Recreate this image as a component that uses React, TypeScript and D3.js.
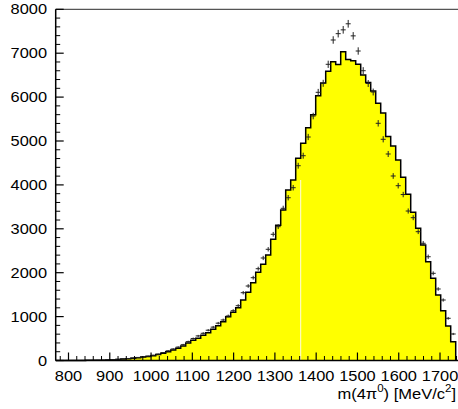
import React from "react";
import * as d3 from "d3";

// histogram range in MeV, 80 bins
const massLo = 769;
const massHi = 1738;
const nBins = 80;

// simulated distribution (yellow histogram), counts per bin
const mcCounts = [
  0, 0, 0, 1, 1, 2, 3, 4, 6, 8,
  12, 18, 25, 32, 42, 52, 65, 78, 92, 110,
  135, 165, 200, 240, 280, 330, 400, 460, 506, 575,
  633, 711, 793, 884, 998, 1098, 1203, 1378, 1553, 1772,
  2009, 2191, 2403, 2760, 3080, 3428, 3884, 4112, 4606, 4947,
  5303, 5600, 6030, 6320, 6590, 6806, 6740, 7034, 6855, 6829,
  6747, 6503, 6330, 6140, 5859, 5640, 5100, 4886, 4567, 4173,
  3786, 3376, 3011, 2631, 2251, 1872, 1492, 1134, 786, 428,
];

// measured data (crosses), counts per bin
const dataCounts = [
  0, 0, 1, 2, 2, 3, 4, 6, 8, 10,
  14, 20, 28, 36, 46, 58, 70, 85, 100, 120,
  145, 180, 220, 262, 305, 360, 430, 500, 560, 620,
  690, 760, 850, 923, 1014, 1134, 1248, 1544, 1697, 1886,
  2091, 2335, 2533, 2875, 3048, 3467, 3708, 3936, 4437, 4665,
  5091, 5569, 6109, 6314, 6747, 7301, 7445, 7532, 7670, 7395,
  7050, 6601, 6310, 6116, 5403, 5039, 4704, 4203, 3982, 3780,
  3405, 3253, 2934, 2670, 2364, 1986, 1629, 1378, 961, 604,
];

const xTicks = [800, 900, 1000, 1100, 1200, 1300, 1400, 1500, 1600, 1700];
const yTicks = [0, 1000, 2000, 3000, 4000, 5000, 6000, 7000, 8000];

const font = "'Liberation Sans', Arial, Helvetica, sans-serif";

export default function App() {
  const W = 458;
  const H = 409;
  const x = d3.scaleLinear().domain([massLo, massHi]).range([55.7, 455.7]);
  const y = d3.scaleLinear().domain([0, 8000]).range([360.5, 9.3]);
  const binW = (massHi - massLo) / nBins;
  const edges = d3.range(nBins + 1).map((i) => massLo + i * binW);

  const steps: [number, number][] = mcCounts.flatMap((v, i) => [
    [edges[i], v],
    [edges[i + 1], v],
  ]);
  const area = d3
    .area<[number, number]>()
    .x((d) => x(d[0]))
    .y0(y(0))
    .y1((d) => y(d[1]));
  const line = d3
    .line<[number, number]>()
    .x((d) => x(d[0]))
    .y((d) => y(d[1]));
  const outline: [number, number][] = [[massLo, 0], ...steps, [massHi, 0]];

  const xMinor = d3.range(780, 1741, 20).filter((v) => v % 100 !== 0);
  const yMinor = d3.range(200, 8000, 200).filter((v) => v % 1000 !== 0);
  const x0 = x(massLo);
  const y0 = y(0);

  return (
    <svg
      width={W}
      height={H}
      style={{ position: "absolute", left: 0, top: 0, background: "#fff" }}
      fontFamily={font}
    >
      <path d={area(steps) || ""} fill="#ffff00" />
      {/* faint bin-edge seam seen in the original */}
      <line x1={x(edges[49])} x2={x(edges[49])} y1={180} y2={y0} stroke="#fffbe0" strokeWidth={1} />
      <path d={line(outline) || ""} fill="none" stroke="#000" strokeWidth={1.5} />

      {dataCounts.map((v, i) => {
        const cx = x((edges[i] + edges[i + 1]) / 2);
        const err = Math.sqrt(v);
        return (
          <g key={i} stroke="#222" strokeWidth={1}>
            <line x1={cx - 2.5} x2={cx + 2.5} y1={y(v)} y2={y(v)} />
            <line x1={cx} x2={cx} y1={y(v + err)} y2={y(Math.max(0, v - err))} />
          </g>
        );
      })}

      {/* frame */}
      <line x1={x0} x2={W} y1={y(8000)} y2={y(8000)} stroke="#555" strokeWidth={1.3} />
      <line x1={x0} x2={x0} y1={y(8000)} y2={y0} stroke="#000" strokeWidth={1.5} />
      <line x1={x0} x2={W} y1={y0} y2={y0} stroke="#000" strokeWidth={1.5} />

      {/* y axis */}
      {yTicks.map((t) => (
        <g key={t}>
          <line x1={x0} x2={x0 + 8} y1={y(t)} y2={y(t)} stroke="#000" strokeWidth={1.2} />
          <text
            transform={`translate(47,${y(t) + 5}) scale(1.13,1)`}
            textAnchor="end"
            fontSize={14.5}
            fill="#000"
          >
            {t}
          </text>
        </g>
      ))}
      {yMinor.map((t) => (
        <line key={t} x1={x0} x2={x0 + 4.5} y1={y(t)} y2={y(t)} stroke="#000" strokeWidth={1} />
      ))}

      {/* x axis */}
      {xTicks.map((t) => (
        <g key={t}>
          <line x1={x(t)} x2={x(t)} y1={y0} y2={y0 - 8} stroke="#000" strokeWidth={1.2} />
          <text
            transform={`translate(${x(t)},380.5) scale(1.13,1)`}
            textAnchor="middle"
            fontSize={14.5}
            fill="#000"
          >
            {t}
          </text>
        </g>
      ))}
      {xMinor.map((t) => (
        <line key={t} x1={x(t)} x2={x(t)} y1={y0} y2={y0 - 4.5} stroke="#000" strokeWidth={1} />
      ))}

      <text transform="translate(456,399) scale(1.1,1)" textAnchor="end" fontSize={15} fill="#000">
        m(4π<tspan fontSize={10.5} dy={-7}>0</tspan>
        <tspan dy={7}>) [MeV/c</tspan>
        <tspan fontSize={10.5} dy={-7}>2</tspan>
        <tspan dy={7}>]</tspan>
      </text>
    </svg>
  );
}
